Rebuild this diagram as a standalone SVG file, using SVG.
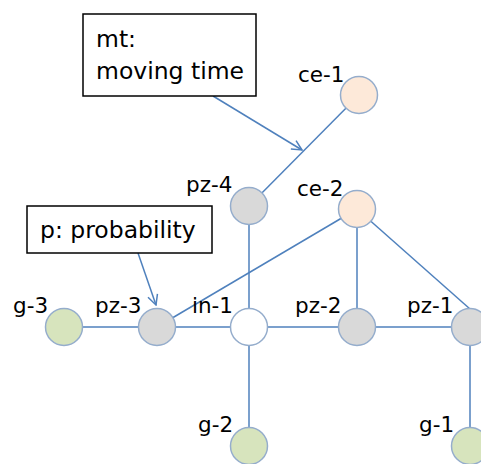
<svg xmlns="http://www.w3.org/2000/svg" width="481" height="464" viewBox="0 0 481 464">
<defs>
<style>
.edge{stroke:#4f81bd;stroke-width:1.5;fill:none}
.node{stroke:#95adcc;stroke-width:1.5}
.grey{fill:#d9d9d9}
.peach{fill:#fde9d9}
.green{fill:#d7e4bd}
.white{fill:#ffffff}
.lbl{font-family:"DejaVu Sans","Liberation Sans",sans-serif;font-size:21.5px;fill:#000}
.note{font-family:"DejaVu Sans","Liberation Sans",sans-serif;font-size:23.5px;fill:#000}
.box{fill:#fff;stroke:#000;stroke-width:1.5}
</style>
<marker id="arr" viewBox="0 0 12 12" refX="11" refY="6" markerWidth="12" markerHeight="12" markerUnits="userSpaceOnUse" orient="auto">
<path d="M1,1 L11,6 L1,11" fill="none" stroke="#4f81bd" stroke-width="1.5"/>
</marker>
</defs>
<rect width="481" height="464" fill="#fff"/>
<g id="connectors">
<line class="edge" x1="359" y1="95" x2="249" y2="206"/>
<line class="edge" x1="249" y1="206" x2="249" y2="446"/>
<line class="edge" x1="64" y1="327" x2="470" y2="327"/>
<line class="edge" x1="357" y1="209" x2="157" y2="327"/>
<line class="edge" x1="357" y1="209" x2="357" y2="327"/>
<line class="edge" x1="357" y1="209" x2="470" y2="309"/>
<line class="edge" x1="470" y1="327" x2="470" y2="446"/>
<line class="edge" x1="213" y1="96" x2="302" y2="150" marker-end="url(#arr)"/>
<line class="edge" x1="138" y1="253" x2="156" y2="305" marker-end="url(#arr)"/>
</g>
<g id="note-mt">
<rect class="box" x="83" y="14" width="173" height="82"/>
<text class="note" x="96" y="47">mt:</text>
<text class="note" x="96" y="79">moving time</text>
</g>
<g id="note-p">
<rect class="box" x="27" y="206" width="185" height="47"/>
<text class="note" x="40" y="238">p: probability</text>
</g>
<g id="ce-1"><circle class="node peach" cx="359" cy="95" r="18.5"/><text class="lbl" x="298" y="82">ce-1</text></g>
<g id="pz-4"><circle class="node grey" cx="249" cy="206" r="18.5"/><text class="lbl" x="186" y="192">pz-4</text></g>
<g id="ce-2"><circle class="node peach" cx="357" cy="209" r="18.5"/><text class="lbl" x="297" y="196">ce-2</text></g>
<g id="g-3"><circle class="node green" cx="64" cy="327" r="18.5"/><text class="lbl" x="13" y="313">g-3</text></g>
<g id="pz-3"><circle class="node grey" cx="157" cy="327" r="18.5"/><text class="lbl" x="95" y="313">pz-3</text></g>
<g id="in-1"><circle class="node white" cx="249" cy="327" r="18.5"/><text class="lbl" x="192" y="313">in-1</text></g>
<g id="pz-2"><circle class="node grey" cx="357" cy="327" r="18.5"/><text class="lbl" x="295" y="313">pz-2</text></g>
<g id="pz-1"><circle class="node grey" cx="470" cy="327" r="18.5"/><text class="lbl" x="407" y="313">pz-1</text></g>
<g id="g-2"><circle class="node green" cx="249" cy="446" r="18.5"/><text class="lbl" x="198" y="432">g-2</text></g>
<g id="g-1"><circle class="node green" cx="470" cy="446" r="18.5"/><text class="lbl" x="419" y="432">g-1</text></g>
</svg>
